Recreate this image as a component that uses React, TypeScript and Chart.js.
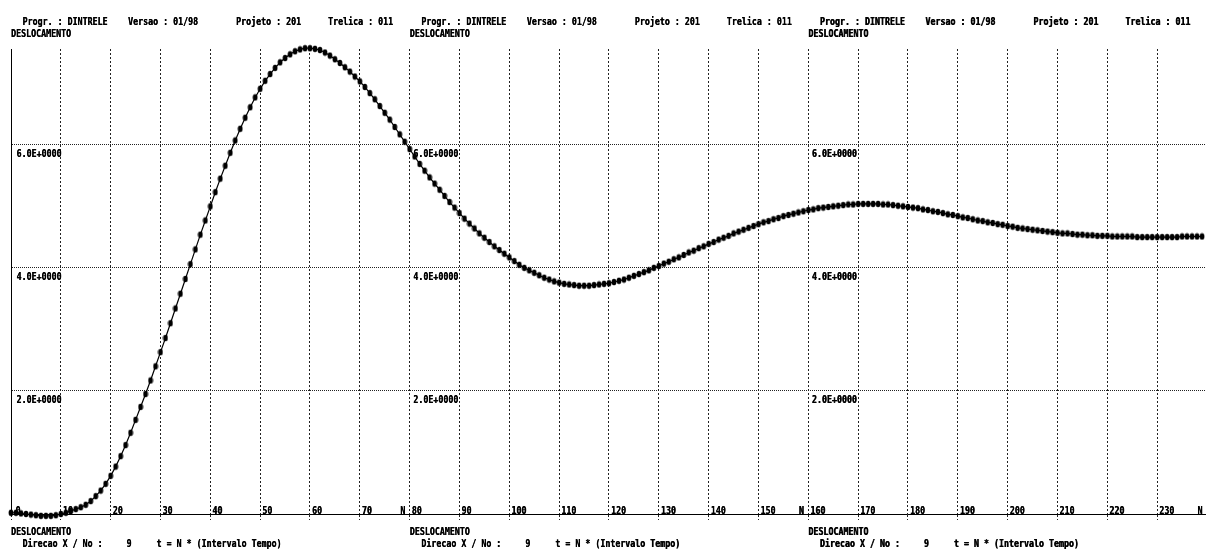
import { useEffect, useRef } from "react";
import { Chart, registerables } from "chart.js";

Chart.register(...registerables);

// Displacement values, one per time step N = 0, 1, 2, ...
const DISPLACEMENT: number[] = [
  // 0-9
  0.02, 0.02, 0.01, 0.0, -0.01, -0.02, -0.03, -0.03, -0.03, -0.02,
  // 10-19
  0.0, 0.02, 0.05, 0.08, 0.11, 0.15, 0.21, 0.29, 0.38, 0.49,
  // 20-29
  0.62, 0.77, 0.94, 1.12, 1.32, 1.53, 1.74, 1.95, 2.17, 2.4,
  // 30-39
  2.63, 2.86, 3.1, 3.34, 3.58, 3.82, 4.06, 4.3, 4.54, 4.77,
  // 40-49
  5.0, 5.23, 5.45, 5.66, 5.87, 6.07, 6.26, 6.44, 6.61, 6.77,
  // 50-59
  6.91, 7.04, 7.15, 7.25, 7.34, 7.41, 7.47, 7.52, 7.55, 7.57,
  // 60-69
  7.57, 7.56, 7.54, 7.5, 7.45, 7.39, 7.33, 7.26, 7.19, 7.11,
  // 70-79
  7.03, 6.94, 6.84, 6.74, 6.63, 6.52, 6.41, 6.29, 6.17, 6.05,
  // 80-89
  5.93, 5.81, 5.69, 5.58, 5.47, 5.37, 5.27, 5.17, 5.07, 4.98,
  // 90-99
  4.89, 4.8, 4.72, 4.64, 4.56, 4.49, 4.42, 4.35, 4.29, 4.23,
  // 100-109
  4.17, 4.11, 4.05, 4.0, 3.96, 3.92, 3.88, 3.84, 3.81, 3.78,
  // 110-119
  3.76, 3.74, 3.73, 3.72, 3.71, 3.71, 3.71, 3.72, 3.73, 3.74,
  // 120-129
  3.75, 3.77, 3.79, 3.81, 3.84, 3.87, 3.9, 3.93, 3.96, 4.0,
  // 130-139
  4.03, 4.07, 4.1, 4.14, 4.17, 4.21, 4.25, 4.28, 4.32, 4.35,
  // 140-149
  4.39, 4.42, 4.46, 4.49, 4.52, 4.56, 4.59, 4.62, 4.65, 4.68,
  // 150-159
  4.71, 4.74, 4.76, 4.79, 4.81, 4.84, 4.86, 4.88, 4.9, 4.92,
  // 160-169
  4.94, 4.95, 4.97, 4.98, 4.99, 5.0, 5.01, 5.02, 5.03, 5.03,
  // 170-179
  5.04, 5.04, 5.04, 5.04, 5.04, 5.03, 5.03, 5.02, 5.01, 5.0,
  // 180-189
  4.99, 4.98, 4.97, 4.95, 4.94, 4.92, 4.91, 4.89, 4.87, 4.86,
  // 190-199
  4.84, 4.82, 4.81, 4.79, 4.77, 4.76, 4.74, 4.73, 4.71, 4.7,
  // 200-209
  4.68, 4.67, 4.65, 4.64, 4.63, 4.62, 4.61, 4.6, 4.59, 4.58,
  // 210-219
  4.57, 4.56, 4.56, 4.55, 4.54, 4.54, 4.53, 4.53, 4.52, 4.52,
  // 220-229
  4.52, 4.51, 4.51, 4.51, 4.51, 4.51, 4.5, 4.5, 4.5, 4.5,
  // 230-239
  4.5, 4.5, 4.5, 4.5, 4.5, 4.51, 4.51, 4.51, 4.51, 4.51,
];

const X_MIN = 0;
const X_MAX = 239.6;
const X_TICKS = [0, 10, 20, 30, 40, 50, 60, 70, 80, 90, 100, 110, 120, 130, 140, 150, 160, 170, 180, 190, 200, 210, 220, 230];
const X_TICK_LABELS = ["0", "10", "20", "30", "40", "50", "60", "70", "80", "90", "100", "110", "120", "130", "140", "150", "160", "170", "180", "190", "200", "210", "220", "230"];

const Y_MIN = 0;
const Y_MAX = 7.557;
const Y_TICKS = [0, 2, 4, 6];
const Y_TICK_LABELS = ["", "2.0E+0000", "4.0E+0000", "6.0E+0000"];

const PANEL_STARTS = [0, 80, 160];
const PANEL_ENDS = [80, 160, 240];

const HEADER_ITEMS = [
  { text: "Progr. : DINTRELE", dx: 11.5 },
  { text: "Versao : 01/98", dx: 117 },
  { text: "Projeto : 201", dx: 225 },
  { text: "Trelica : 011", dx: 317 },
];
const TOP_TITLE = "DESLOCAMENTO";
const BOTTOM_TITLE = "DESLOCAMENTO";
const FOOTER_ITEMS = [
  { text: "Direcao X / No :", dx: 11.5 },
  { text: "9", dx: 115.5 },
  { text: "t = N * (Intervalo Tempo)", dx: 145.5 },
];

const FONT = 'bold 10px "DejaVu Sans Mono"';
const SCALE_X = 0.83;

function drawText(ctx: CanvasRenderingContext2D, str: string, x: number, y: number) {
  ctx.save();
  ctx.translate(x, y);
  ctx.scale(SCALE_X, 1);
  ctx.fillText(str, 0, 0);
  ctx.fillText(str, 0.45, 0);
  ctx.restore();
}

function makeMarker(): HTMLCanvasElement {
  const c = document.createElement("canvas");
  c.width = 6;
  c.height = 8;
  const g = c.getContext("2d")!;
  g.fillStyle = "#000";
  g.beginPath();
  g.ellipse(3, 4, 2.4, 3.3, 0, 0, Math.PI * 2);
  g.fill();
  return c;
}

const textPlugin = {
  id: "panelTexts",
  afterDraw(chart: any) {
    const ctx: CanvasRenderingContext2D = chart.ctx;
    const xs = chart.scales.x;
    const ys = chart.scales.y;
    ctx.save();
    ctx.font = FONT;
    ctx.fillStyle = "#000";
    ctx.textBaseline = "alphabetic";
    ctx.textAlign = "left";

    PANEL_STARTS.forEach((start, pi) => {
      const p = xs.getPixelForValue(start);
      HEADER_ITEMS.forEach((h) => drawText(ctx, h.text, p + h.dx, 25));
      drawText(ctx, TOP_TITLE, p, 36.5);
      drawText(ctx, BOTTOM_TITLE, p, 534.5);
      FOOTER_ITEMS.forEach((f) => drawText(ctx, f.text, p + f.dx, 547));
      Y_TICKS.forEach((v, i) => {
        const lbl = Y_TICK_LABELS[i];
        if (!lbl) return;
        const y = ys.getPixelForValue(v);
        drawText(ctx, lbl, p + (pi === 0 ? 5.5 : 3.5), y + 12);
      });
      const end = PANEL_ENDS[pi];
      const ex = Math.min(xs.getPixelForValue(end), chart.width + 2);
      drawText(ctx, "N", ex - 9.5, 514);
    });

    X_TICKS.forEach((v, i) => {
      const x = xs.getPixelForValue(v);
      drawText(ctx, X_TICK_LABELS[i], x + (v === 0 ? 4.5 : 2), 514);
    });
    ctx.restore();
  },
};

export default function App() {
  const canvasRef = useRef<HTMLCanvasElement | null>(null);

  useEffect(() => {
    if (!canvasRef.current) return;
    const points = DISPLACEMENT.map((v, i) => ({ x: i, y: v }));
    const marker = makeMarker();
    const chart = new Chart(canvasRef.current, {
      type: "line",
      data: {
        datasets: [
          {
            data: points,
            borderColor: "#000",
            borderWidth: 1.2,
            backgroundColor: "#000",
            pointBackgroundColor: "#000",
            pointBorderColor: "#000",
            pointBorderWidth: 0,
            pointRadius: 3,
            pointStyle: marker as any,
            tension: 0,
            fill: false,
            clip: false as any,
          },
        ],
      },
      options: {
        animation: false,
        responsive: false,
        devicePixelRatio: 1,
        layout: { padding: { left: 11, right: 0, top: 49, bottom: 29 } },
        plugins: {
          legend: { display: false },
          tooltip: { enabled: false },
          title: { display: false },
        },
        scales: {
          x: {
            type: "linear",
            min: X_MIN,
            max: X_MAX,
            afterBuildTicks: (axis: any) => {
              axis.ticks = X_TICKS.map((v) => ({ value: v }));
            },
            ticks: { display: false },
            grid: {
              color: "#222",
              lineWidth: 1,
              drawTicks: true,
              tickLength: 6,
              tickColor: "#222",
              tickBorderDash: [2, 2],
            },
            border: { display: true, color: "#000", width: 1, dash: [2, 2] },
          },
          y: {
            type: "linear",
            min: Y_MIN,
            max: Y_MAX,
            afterBuildTicks: (axis: any) => {
              axis.ticks = Y_TICKS.map((v) => ({ value: v }));
            },
            ticks: { display: false },
            grid: { color: "#222", lineWidth: 1, drawTicks: false },
            border: { display: true, color: "#000", width: 1, dash: [1, 1] },
          },
        },
      },
      plugins: [textPlugin],
    });
    return () => chart.destroy();
  }, []);

  return (
    <div style={{ position: "fixed", left: 0, top: 0, width: 1209, height: 549, background: "#fff", overflow: "hidden" }}>
      <canvas ref={canvasRef} width={1209} height={549} style={{ display: "block" }} />
    </div>
  );
}
